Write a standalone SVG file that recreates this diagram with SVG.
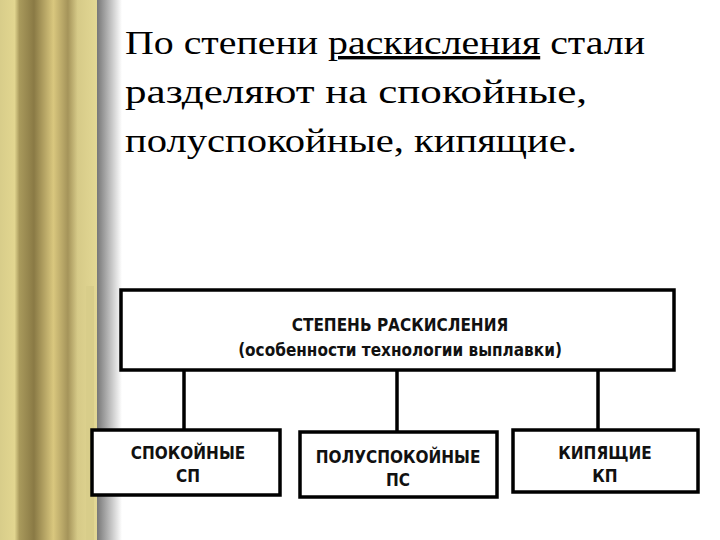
<svg xmlns="http://www.w3.org/2000/svg" width="720" height="540" viewBox="0 0 720 540">
<defs>
<linearGradient id="col" x1="0" x2="1" y1="0" y2="0">
<stop offset="0" stop-color="#d8cd8a"/><stop offset="0.15" stop-color="#e2d690"/><stop offset="0.2" stop-color="#a99a5c"/><stop offset="0.35" stop-color="#8a7a45"/><stop offset="0.55" stop-color="#d9c77e"/><stop offset="0.7" stop-color="#a5945a"/><stop offset="0.8" stop-color="#d6ca88"/><stop offset="1" stop-color="#e3d894"/>
</linearGradient>
<linearGradient id="sh" x1="0" x2="1" y1="0" y2="0">
<stop offset="0" stop-color="#777"/><stop offset="1" stop-color="#fff"/>
</linearGradient>
<style>
.b{fill:#fff;stroke:#000;stroke-width:3.5}
.t{font-family:'Liberation Serif','Times New Roman','DejaVu Serif',serif;font-size:34px;fill:#000}
.l{font-family:'DejaVu Sans Condensed','DejaVu Sans',sans-serif;font-weight:bold;font-size:17px;fill:#111;text-anchor:middle}
</style>
</defs>
<rect width="720" height="540" fill="#fff"/>
<rect x="0" y="0" width="97" height="540" fill="url(#col)"/>
<rect x="97" y="0" width="25" height="540" fill="url(#sh)"/>
<rect x="86" y="286" width="8" height="254" fill="#d8cd8a"/>
<g id="title">
<text class="t" x="125" y="54" textLength="520" lengthAdjust="spacingAndGlyphs">По степени <tspan text-decoration="underline">раскисления</tspan> стали</text>
<text class="t" x="125" y="103" textLength="462" lengthAdjust="spacingAndGlyphs">разделяют на спокойные,</text>
<text class="t" x="125" y="152" textLength="452" lengthAdjust="spacingAndGlyphs">полуспокойные, кипящие.</text>
</g>
<g id="connectors" stroke="#000" stroke-width="3.5">
<line x1="184" y1="370" x2="184" y2="430"/>
<line x1="397" y1="370" x2="397" y2="432"/>
<line x1="598" y1="370" x2="598" y2="430"/>
</g>
<g id="root"><rect class="b" x="121" y="290" width="553" height="80"/>
<text class="l" x="400" y="331">СТЕПЕНЬ РАСКИСЛЕНИЯ</text>
<text class="l" x="400" y="356">(особенности технологии выплавки)</text></g>
<g id="sp"><rect class="b" x="92" y="430" width="188" height="65"/>
<text class="l" x="188" y="459">СПОКОЙНЫЕ</text><text class="l" x="188" y="482">СП</text></g>
<g id="ps"><rect class="b" x="300" y="432" width="197" height="65"/>
<text class="l" x="398" y="463">ПОЛУСПОКОЙНЫЕ</text><text class="l" x="398" y="486">ПС</text></g>
<g id="kp"><rect class="b" x="513" y="430" width="185" height="62"/>
<text class="l" x="605" y="459">КИПЯЩИЕ</text><text class="l" x="605" y="482">КП</text></g>
</svg>
